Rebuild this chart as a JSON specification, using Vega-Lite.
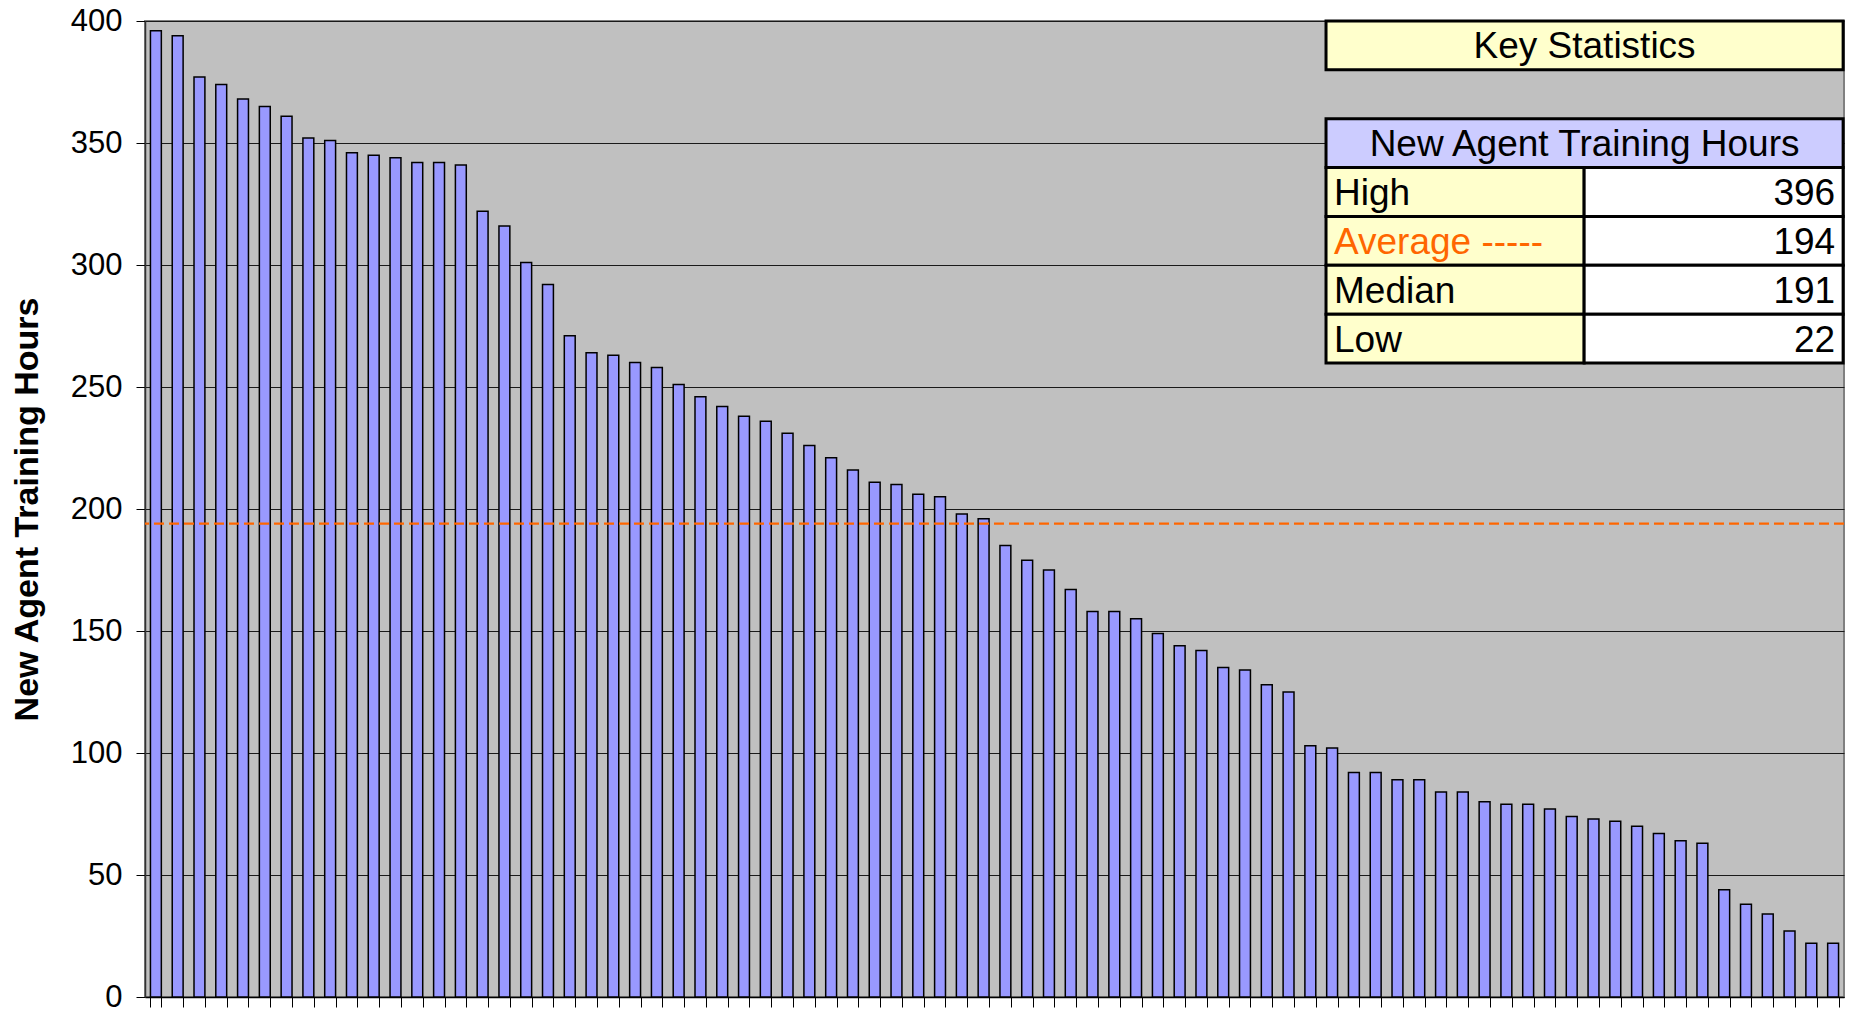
{
  "$schema": "https://vega.github.io/schema/vega-lite/v6.json",
  "width": 1699,
  "height": 976,
  "autosize": {"type": "none"},
  "padding": {"left": 145, "top": 21, "right": 6, "bottom": 15},
  "background": "white",
  "config": {
    "view": {"fill": "#C0C0C0", "stroke": "#808080", "strokeWidth": 2},
    "font": "Liberation Sans"
  },
  "resolve": {"scale": {"x": "independent", "y": "independent"}},
  "layer": [
    {
      "data": {"values": [
        {"rank": 1, "hours": 396}, {"rank": 2, "hours": 394}, {"rank": 3, "hours": 377}, {"rank": 4, "hours": 374},
        {"rank": 5, "hours": 368}, {"rank": 6, "hours": 365}, {"rank": 7, "hours": 361}, {"rank": 8, "hours": 352},
        {"rank": 9, "hours": 351}, {"rank": 10, "hours": 346}, {"rank": 11, "hours": 345}, {"rank": 12, "hours": 344},
        {"rank": 13, "hours": 342}, {"rank": 14, "hours": 342}, {"rank": 15, "hours": 341}, {"rank": 16, "hours": 322},
        {"rank": 17, "hours": 316}, {"rank": 18, "hours": 301}, {"rank": 19, "hours": 292}, {"rank": 20, "hours": 271},
        {"rank": 21, "hours": 264}, {"rank": 22, "hours": 263}, {"rank": 23, "hours": 260}, {"rank": 24, "hours": 258},
        {"rank": 25, "hours": 251}, {"rank": 26, "hours": 246}, {"rank": 27, "hours": 242}, {"rank": 28, "hours": 238},
        {"rank": 29, "hours": 236}, {"rank": 30, "hours": 231}, {"rank": 31, "hours": 226}, {"rank": 32, "hours": 221},
        {"rank": 33, "hours": 216}, {"rank": 34, "hours": 211}, {"rank": 35, "hours": 210}, {"rank": 36, "hours": 206},
        {"rank": 37, "hours": 205}, {"rank": 38, "hours": 198}, {"rank": 39, "hours": 196}, {"rank": 40, "hours": 185},
        {"rank": 41, "hours": 179}, {"rank": 42, "hours": 175}, {"rank": 43, "hours": 167}, {"rank": 44, "hours": 158},
        {"rank": 45, "hours": 158}, {"rank": 46, "hours": 155}, {"rank": 47, "hours": 149}, {"rank": 48, "hours": 144},
        {"rank": 49, "hours": 142}, {"rank": 50, "hours": 135}, {"rank": 51, "hours": 134}, {"rank": 52, "hours": 128},
        {"rank": 53, "hours": 125}, {"rank": 54, "hours": 103}, {"rank": 55, "hours": 102}, {"rank": 56, "hours": 92},
        {"rank": 57, "hours": 92}, {"rank": 58, "hours": 89}, {"rank": 59, "hours": 89}, {"rank": 60, "hours": 84},
        {"rank": 61, "hours": 84}, {"rank": 62, "hours": 80}, {"rank": 63, "hours": 79}, {"rank": 64, "hours": 79},
        {"rank": 65, "hours": 77}, {"rank": 66, "hours": 74}, {"rank": 67, "hours": 73}, {"rank": 68, "hours": 72},
        {"rank": 69, "hours": 70}, {"rank": 70, "hours": 67}, {"rank": 71, "hours": 64}, {"rank": 72, "hours": 63},
        {"rank": 73, "hours": 44}, {"rank": 74, "hours": 38}, {"rank": 75, "hours": 34}, {"rank": 76, "hours": 27},
        {"rank": 77, "hours": 22}, {"rank": 78, "hours": 22}
      ]},
      "layer": [
        {
          "mark": {"type": "bar", "fill": "#9999FF", "stroke": "#000000", "strokeWidth": 1.5},
          "encoding": {
            "x": {
              "field": "rank", "type": "ordinal",
              "scale": {"paddingInner": 0.5, "paddingOuter": 0.25},
              "axis": {
                "labels": false, "title": null, "grid": false,
                "tickBand": "extent", "tickSize": 10, "tickColor": "#000000", "tickWidth": 1,
                "domainColor": "#000000", "domainWidth": 1.5
              }
            },
            "y": {
              "field": "hours", "type": "quantitative",
              "scale": {"domain": [0, 400], "nice": false},
              "axis": {
                "values": [0, 50, 100, 150, 200, 250, 300, 350, 400],
                "grid": true, "gridColor": "#1a1a1a", "gridWidth": 1,
                "domainColor": "#333333", "domainWidth": 1.5,
                "tickColor": "#000000", "tickSize": 9, "tickWidth": 1,
                "labelFontSize": 31, "labelFont": "Liberation Sans", "labelColor": "#000000", "labelPadding": 14,
                "title": "New Agent Training Hours",
                "titleFont": "Liberation Sans", "titleFontSize": 34, "titleFontWeight": "bold",
                "titleColor": "#000000", "titlePadding": 26
              }
            }
          }
        },
        {
          "mark": {"type": "rule", "stroke": "#FF6600", "strokeWidth": 2.2, "strokeDash": [10, 5]},
          "encoding": {
            "y": {"aggregate": "mean", "field": "hours", "type": "quantitative"}
          }
        }
      ]
    },
    {
      "data": {"values": [
        {"stat": "Key Statistics", "label": "Key Statistics"},
        {"stat": "New Agent Training Hours", "label": "New Agent Training Hours"},
        {"stat": "High", "label": "High", "value": 396},
        {"stat": "Average", "label": "Average -----", "value": 194},
        {"stat": "Median", "label": "Median", "value": 191},
        {"stat": "Low", "label": "Low", "value": 22}
      ]},
      "encoding": {
        "y": {
          "field": "stat", "type": "nominal",
          "scale": {
            "type": "band",
            "domain": ["Key Statistics", "gap", "New Agent Training Hours", "High", "Average", "Median", "Low"],
            "range": [0, 342],
            "paddingInner": 0, "paddingOuter": 0
          },
          "axis": null
        }
      },
      "layer": [
        {
          "transform": [{"filter": "!isValid(datum.value)"}],
          "mark": {"type": "rect", "stroke": "#000000", "strokeWidth": 3},
          "encoding": {
            "x": {"datum": 54.22, "type": "quantitative", "scale": {"domain": [0, 78], "nice": false, "zero": false}, "axis": null},
            "x2": {"datum": 77.96},
            "fill": {"condition": {"test": "datum.stat === 'Key Statistics'", "value": "#FFFFCC"}, "value": "#CCCCFF"}
          }
        },
        {
          "transform": [{"filter": "isValid(datum.value)"}],
          "mark": {"type": "rect", "stroke": "#000000", "strokeWidth": 3, "fill": "#FFFFCC"},
          "encoding": {
            "x": {"datum": 54.22, "type": "quantitative", "axis": null},
            "x2": {"datum": 66.07}
          }
        },
        {
          "transform": [{"filter": "isValid(datum.value)"}],
          "mark": {"type": "rect", "stroke": "#000000", "strokeWidth": 3, "fill": "#FFFFFF"},
          "encoding": {
            "x": {"datum": 66.07, "type": "quantitative", "axis": null},
            "x2": {"datum": 77.96}
          }
        },
        {
          "transform": [{"filter": "!isValid(datum.value)"}],
          "mark": {"type": "text", "align": "center", "baseline": "middle", "dy": 2, "fontSize": 37, "font": "Liberation Sans", "fill": "#000000"},
          "encoding": {
            "x": {"datum": 66.09, "type": "quantitative", "axis": null},
            "text": {"field": "label"}
          }
        },
        {
          "transform": [{"filter": "isValid(datum.value)"}],
          "mark": {"type": "text", "align": "left", "baseline": "middle", "dx": 8, "dy": 2, "fontSize": 37, "font": "Liberation Sans"},
          "encoding": {
            "x": {"datum": 54.22, "type": "quantitative", "axis": null},
            "text": {"field": "label"},
            "color": {"condition": {"test": "datum.stat === 'Average'", "value": "#FF6600"}, "value": "#000000"}
          }
        },
        {
          "transform": [{"filter": "isValid(datum.value)"}],
          "mark": {"type": "text", "align": "right", "baseline": "middle", "dx": -8, "dy": 2, "fontSize": 37, "font": "Liberation Sans", "fill": "#000000"},
          "encoding": {
            "x": {"datum": 77.96, "type": "quantitative", "axis": null},
            "text": {"field": "value", "type": "quantitative"}
          }
        }
      ]
    }
  ]
}
